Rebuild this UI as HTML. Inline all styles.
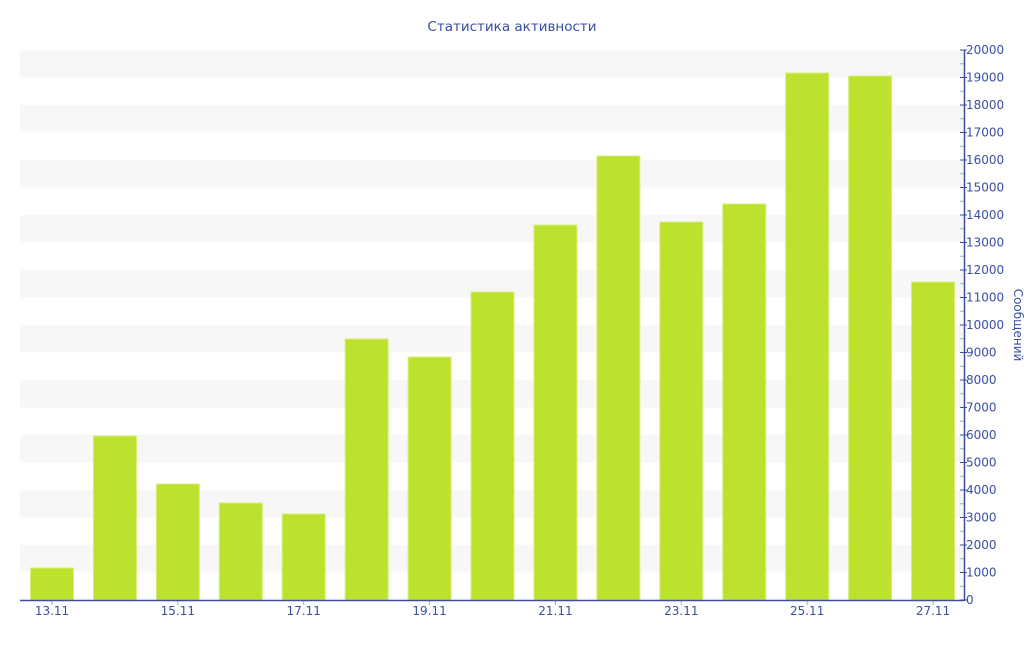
<!DOCTYPE html>
<html><head><meta charset="utf-8"><style>body{margin:0;background:#fff}</style></head><body>
<svg width="1024" height="640" xmlns="http://www.w3.org/2000/svg" font-family="DejaVu Sans, Liberation Sans, sans-serif">
<text x="512" y="31" text-anchor="middle" font-size="13.5" fill="#3a4fa0">Статистика активности</text>
<g id="bands"></g><g id="bars"></g><g id="axis"></g>
<line x1="20" y1="600.5" x2="964" y2="600.5" stroke="#3a4fa0" stroke-width="1.5"/>
<line x1="964.5" y1="50" x2="964.5" y2="601" stroke="#3a4fa0" stroke-width="1.5"/>
<text transform="translate(1014,325) rotate(90)" text-anchor="middle" font-size="12" fill="#3a4fa0">Сообщений</text>
<script>
var ns="http://www.w3.org/2000/svg";function el(p,t,a,tx){var e=document.createElementNS(ns,t);for(var k in a)e.setAttribute(k,a[k]);if(tx)e.textContent=tx;document.getElementById(p).appendChild(e);}
function y(v){return 600-v*0.0275;}
for(var v=1000;v<20000;v+=2000)el('bands','rect',{x:20,y:y(v+1000),width:944,height:27.5,fill:'#f7f7f7'});
var d=[1164,5964,4218,3527,3127,9491,8836,11200,13636,16145,13745,14400,19164,19054,11564];
for(var i=0;i<15;i++){var cx=52+i*62.93;el('bars','rect',{x:cx-21.5,y:y(d[i]),width:43,height:600-y(d[i]),fill:'#bde22e',stroke:'#d6ef7a','stroke-width':1});
if(i%2==0){el('axis','line',{x1:cx,y1:600,x2:cx,y2:605,stroke:'#aaa'});el('axis','text',{x:cx,y:615,'text-anchor':'middle','font-size':12,fill:'#3a4fa0'},(13+i)+'.11');}}
for(var v=0;v<=20000;v+=500){var yy=y(v);if(v%1000==0){el('axis','line',{x1:960,y1:yy,x2:967,y2:yy,stroke:'#3a4fa0'});el('axis','text',{x:966,y:yy+4,'font-size':12,fill:'#3a4fa0'},''+v);}else el('axis','line',{x1:960,y1:yy,x2:964,y2:yy,stroke:'#aaa'});}
</script>
</svg>
</body></html>
